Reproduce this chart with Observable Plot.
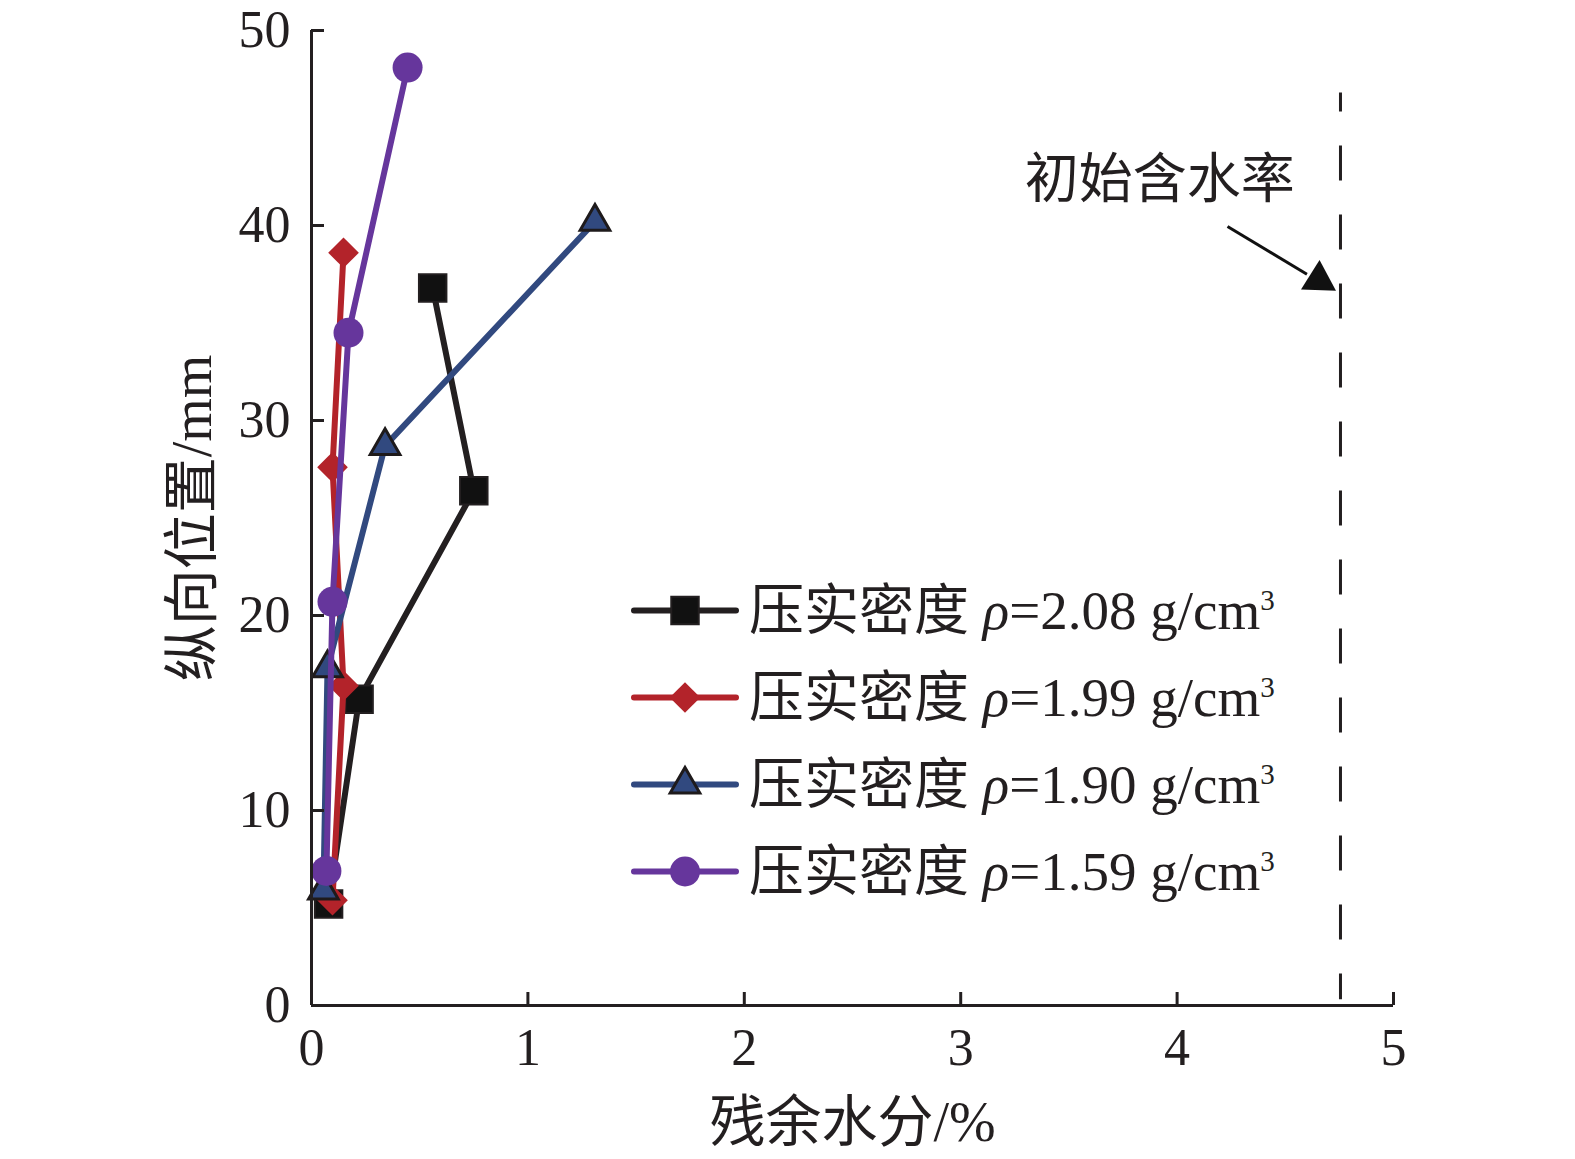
<!DOCTYPE html>
<html><head><meta charset="utf-8">
<script src="https://cdn.jsdelivr.net/npm/d3@7"></script>
<script src="https://cdn.jsdelivr.net/npm/@observablehq/plot@0.6"></script>
<style>
body{margin:0;background:#fff;}
#wrap{position:relative;width:1575px;height:1159px;}
#legend{position:absolute;left:631px;top:567px;font-family:"Liberation Serif","Noto Sans CJK SC",serif;font-size:55px;color:#231f20;}
.row{display:flex;align-items:center;height:87px;white-space:nowrap;}
.row svg{flex:none;}
.row span{margin-left:10px;line-height:1;}
.row sup{font-size:29px;position:relative;top:3px;vertical-align:top;}
</style></head><body><div id="wrap"></div><div id="legend"></div><script>
// ---- data ----
const seriesLabels = ["压实密度 ρ=2.08 g/cm³", "压实密度 ρ=1.99 g/cm³", "压实密度 ρ=1.90 g/cm³", "压实密度 ρ=1.59 g/cm³"];
const densityText = ["2.08", "1.99", "1.90", "1.59"];
const moisture208 = [0.079, 0.22, 0.75, 0.56];
const position208 = [5.2, 15.7, 26.4, 36.8];
const moisture199 = [0.097, 0.148, 0.097, 0.148];
const position199 = [5.4, 16.4, 27.6, 38.6];
const moisture190 = [0.055, 0.074, 0.34, 1.31];
const position190 = [5.9, 17.3, 28.7, 40.2];
const moisture159 = [0.069, 0.097, 0.171, 0.444];
const position159 = [6.9, 20.7, 34.5, 48.1];
const xTicks = [0, 1, 2, 3, 4, 5];
const yTicks = [0, 10, 20, 30, 40, 50];
const xLabel = "残余水分/%";
const yLabel = "纵向位置/mm";
// initial moisture reference line & annotation
const initialMoisture = [4.755];
const initialSpan = [46.8, 0.3];
const annoText = ["初始含水率"];
const annoTextPos = [3.92, 42.3];
const annoShaft = [4.233, 39.95, 4.60, 37.5];
const annoHead = [4.655, 37.2];

const colors = ["#231f20", "#b3232a", "#31497f", "#66369c"];
const symbols = ["square", "diamond2", "triangle", "circle"];

const xs = [moisture208, moisture199, moisture190, moisture159];
const ys = [position208, position199, position190, position159];
const data = xs.map((arr, s) => arr.map((x, i) => ({x, y: ys[s][i], s})));

const W = 1575, H = 1159, mL = 311, mR = 182, mT = 30, mB = 154;
const fH = H - mT - mB, fW = W - mL - mR;

const dotStyle = [
  {r: 15.5, fill: "#111", stroke: "#231f20", strokeWidth: 2},
  {r: 13.8, fill: "#b3232a", stroke: "none"},
  {r: 11, fill: "#31497f", stroke: "#1e1a1b", strokeWidth: 3},
  {r: 15, fill: "#66369c", stroke: "none"}
];

const marks = [];
data.forEach((d, s) => {
  marks.push(Plot.line(d, {x: "x", y: "y", stroke: colors[s], strokeWidth: 6}));
  marks.push(Plot.dot(d, {x: "x", y: "y", symbol: symbols[s], ...dotStyle[s]}));
});

const chart = Plot.plot({
  width: W, height: H,
  marginLeft: mL, marginRight: mR, marginTop: mT, marginBottom: mB,
  style: {fontFamily: '"Liberation Serif","Noto Sans CJK SC",serif', fontSize: "52px", color: "#231f20", background: "#fff"},
  x: {domain: [0, 5]},
  y: {domain: [0, 50]},
  marks: [
    Plot.ruleX(initialMoisture, {y1: initialSpan[0], y2: initialSpan[1], stroke: "#231f20", strokeWidth: 3, strokeDasharray: "35,34", strokeDashoffset: 16}),
    Plot.text(annoText, {x: annoTextPos[0], y: annoTextPos[1], text: d => d, fontSize: 54, fill: "#231f20", fontFamily: '"Noto Sans CJK SC",sans-serif'}),
    Plot.link([annoShaft], {x1: d => d[0], y1: d => d[1], x2: d => d[2], y2: d => d[3], stroke: "#111", strokeWidth: 3}),
    Plot.dot([annoHead], {x: d => d[0], y: d => d[1], symbol: "triangle", r: 13, fill: "#111", rotate: 122}),
    ...marks,
    Plot.ruleY([0], {stroke: "#231f20", strokeWidth: 3}),
    Plot.ruleX([0], {stroke: "#231f20", strokeWidth: 3}),
    Plot.tickX(xTicks, {x: d => d, insetTop: fH - 13, stroke: "#231f20", strokeWidth: 3}),
    Plot.tickY(yTicks, {y: d => d, insetRight: fW - 13, stroke: "#231f20", strokeWidth: 3}),
    Plot.axisX({ticks: xTicks, tickSize: 0, tickPadding: 23, label: null, tickFormat: d => d}),
    Plot.axisY({ticks: yTicks, tickSize: 0, tickPadding: 21, label: null, tickFormat: d => d}),
    Plot.text([xLabel], {frameAnchor: "bottom", lineAnchor: "middle", textAnchor: "middle", dy: 118, text: d => d, fontSize: 56, fill: "#231f20"}),
    Plot.text([yLabel], {frameAnchor: "left", lineAnchor: "middle", textAnchor: "middle", dx: -118, rotate: -90, text: d => d, fontSize: 56, fill: "#231f20"})
  ]
});
document.getElementById("wrap").appendChild(chart);

// ---- legend ----
const legend = d3.select("#legend");
seriesLabels.forEach((lab, s) => {
  const row = legend.append("div").attr("class", "row");
  const svg = row.append("svg").attr("width", 108).attr("height", 87);
  svg.append("line").attr("x1", 3).attr("x2", 105).attr("y1", 43.5).attr("y2", 43.5)
    .attr("stroke", colors[s]).attr("stroke-width", 6).attr("stroke-linecap", "round");
  const symMap = {square: d3.symbolSquare, diamond2: d3.symbolDiamond2, triangle: d3.symbolTriangle, circle: d3.symbolCircle};
  const st = dotStyle[s];
  svg.append("path").attr("transform", "translate(54,43.5)")
    .attr("d", d3.symbol(symMap[symbols[s]], st.r * st.r * Math.PI)())
    .attr("fill", st.fill).attr("stroke", st.stroke).attr("stroke-width", st.strokeWidth || 0);
  row.append("span").html(`压实密度 <i>ρ</i>=${densityText[s]} g/cm<sup>3</sup>`);
});
</script></body></html>
